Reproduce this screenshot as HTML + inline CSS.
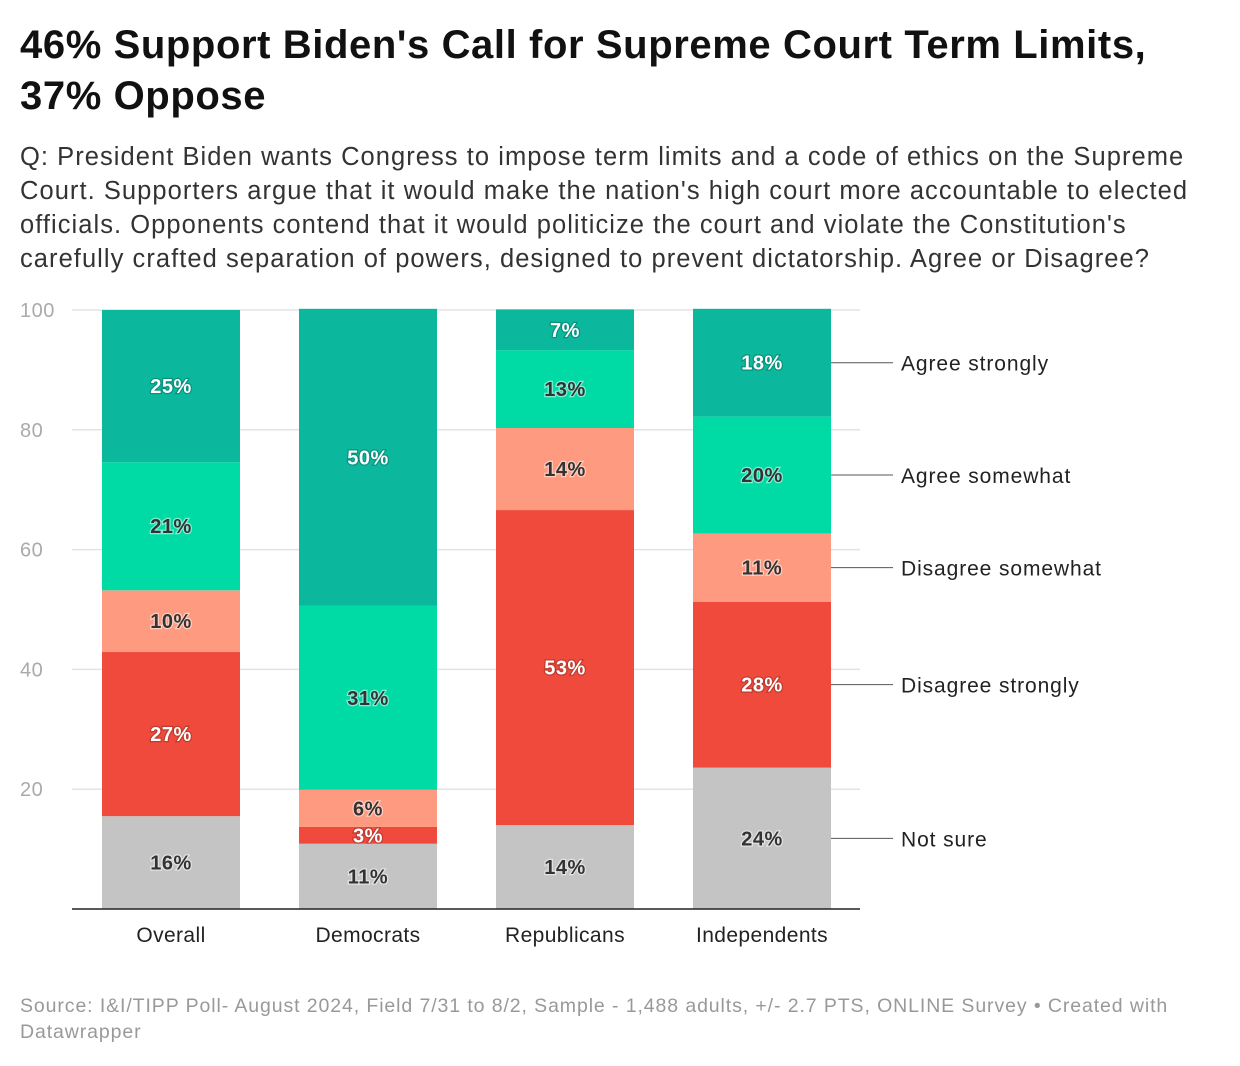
<!DOCTYPE html>
<html><head><meta charset="utf-8"><style>
body{margin:0;background:#fff;width:1240px;height:1066px;overflow:hidden;font-family:"Liberation Sans",Arial,sans-serif;position:relative}
.t{position:absolute;left:20px;font-weight:bold;font-size:40px;color:#111;line-height:51px;top:20px;letter-spacing:0.6px;white-space:nowrap}
.s{position:absolute;left:20px;top:140px;font-size:25.5px;line-height:34px;color:#333;white-space:nowrap;letter-spacing:1.05px}
.f{position:absolute;left:20px;top:993px;font-size:19.5px;line-height:26px;color:#999;white-space:nowrap;letter-spacing:0.9px}
</style></head><body>
<div class="t">46% Support Biden's Call for Supreme Court Term Limits,<br>37% Oppose</div>
<div class="s">Q: President Biden wants Congress to impose term limits and a code of ethics on the Supreme<br>Court. Supporters argue that it would make the nation's high court more accountable to elected<br>officials. Opponents contend that it would politicize the court and violate the Constitution's<br>carefully crafted separation of powers, designed to prevent dictatorship. Agree or Disagree?</div>
<svg id="c" width="1240" height="1066" style="position:absolute;left:0;top:0"></svg>
<div class="f">Source: I&amp;I/TIPP Poll- August 2024, Field 7/31 to 8/2, Sample - 1,488 adults, +/- 2.7 PTS, ONLINE Survey • Created with<br>Datawrapper</div>
<script>
const categories=["Overall","Democrats","Republicans","Independents"];
const seriesNames=["Not sure","Disagree strongly","Disagree somewhat","Agree somewhat","Agree strongly"];
const notSure=[15.5,10.9,14.0,23.6];
const disagreeStrongly=[27.4,2.8,52.6,27.7];
const disagreeSomewhat=[10.3,6.2,13.7,11.4];
const agreeSomewhat=[21.4,30.7,13.0,19.5];
const agreeStrongly=[25.4,49.6,6.8,18.0];
const yTicks=[20,40,60,80,100];
const series=[notSure,disagreeStrongly,disagreeSomewhat,agreeSomewhat,agreeStrongly];
const colors=["#c4c4c4","#ef4a3c","#fe9a7f","#00dba6","#0bb89d"];
const lightText=[false,true,false,false,true];
const NS="http://www.w3.org/2000/svg";
const svg=document.getElementById('c');
const y=v=>909-v*5.99;
const x=i=>102+i*197, bw=138;
function mk(t,a,p){const e=document.createElementNS(NS,t);for(const k in a)e.setAttribute(k,a[k]);(p||svg).appendChild(e);return e;}
yTicks.forEach(v=>{
 const g=mk('line',{x1:72,x2:860,y1:y(v),y2:y(v),stroke:'#e3e3e3','stroke-width':1.5});
 
 
 const t=mk('text',{x:20,y:y(v)+7,'font-size':20,fill:'#aaa','font-family':'Liberation Sans, sans-serif','letter-spacing':0.5});t.textContent=v;
 
 
});
categories.forEach((c,i)=>{
 let base=0;
 series.forEach((s,j)=>{
  const v=s[i];
  const r=mk('rect',{x:x(i),y:y(base+v),width:bw,height:v*5.99,fill:colors[j]});
  
  
  base+=v;
 });
 base=0;
 series.forEach((s,j)=>{
  const v=s[i];const cy=y(base+v/2);base+=v;
  const t=mk('text',{x:x(i)+bw/2,y:cy+7,'text-anchor':'middle','font-size':20,'font-weight':'bold','font-family':'Liberation Sans, sans-serif','letter-spacing':0.5,fill:lightText[j]?'#fff':'#333',stroke:lightText[j]?'rgba(0,0,0,0.2)':'rgba(255,255,255,0.5)','stroke-width':2.5,'paint-order':'stroke'});
  t.textContent=Math.round(v)+'%';
  
  
 });
 const l=mk('text',{x:x(i)+bw/2,y:942,'text-anchor':'middle','font-size':21,fill:'#222','font-family':'Liberation Sans, sans-serif','letter-spacing':0.4});l.textContent=c;
 
 
});
const ax=mk('line',{x1:72,x2:860,y1:909,y2:909,stroke:'#222','stroke-width':1.5});


let base=0;const last=categories.length-1;
series.forEach((s,j)=>{
 const v=s[last];const cy=y(base+v/2);base+=v;
 const ln=mk('line',{x1:831,x2:893,y1:cy,y2:cy,stroke:'#555','stroke-width':1});
 
 
 const t=mk('text',{x:901,y:cy+8,'font-size':21,fill:'#222','font-family':'Liberation Sans, sans-serif','letter-spacing':0.9});t.textContent=seriesNames[j];
 
 
});
</script>
</body></html>
